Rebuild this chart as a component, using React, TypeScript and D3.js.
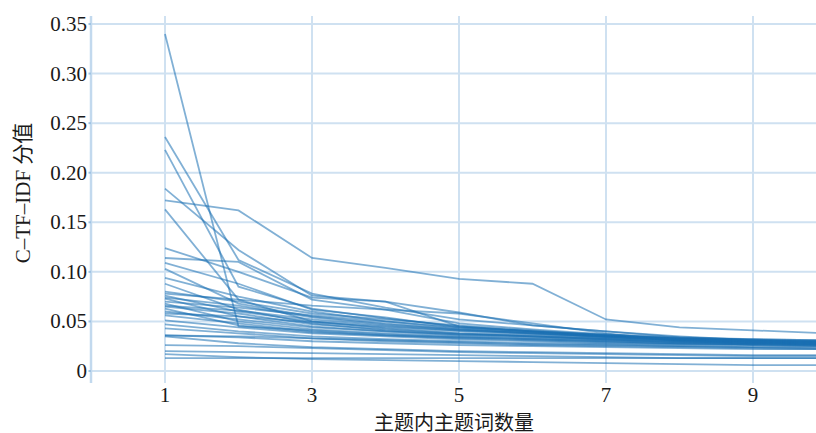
import React from "react";
import * as d3 from "d3";

const wordCounts = [1, 2, 3, 4, 5, 6, 7, 8, 9, 10];
const xTicks = [1, 3, 5, 7, 9];
const yTicks = [0, 0.05, 0.1, 0.15, 0.2, 0.25, 0.3, 0.35];
const yTickLabels = ["0", "0.05", "0.10", "0.15", "0.20", "0.25", "0.30", "0.35"];

const topicScores: number[][] = [
  [0.340, 0.045, 0.041, 0.037, 0.034, 0.032, 0.030, 0.028, 0.027, 0.026],
  [0.236, 0.112, 0.078, 0.064, 0.052, 0.046, 0.040, 0.035, 0.031, 0.029],
  [0.223, 0.085, 0.063, 0.053, 0.045, 0.040, 0.035, 0.031, 0.028, 0.027],
  [0.184, 0.122, 0.076, 0.070, 0.059, 0.046, 0.040, 0.034, 0.031, 0.029],
  [0.172, 0.162, 0.114, 0.104, 0.093, 0.088, 0.052, 0.044, 0.041, 0.038],
  [0.163, 0.072, 0.050, 0.043, 0.038, 0.035, 0.032, 0.029, 0.027, 0.026],
  [0.124, 0.100, 0.074, 0.070, 0.045, 0.040, 0.036, 0.032, 0.030, 0.028],
  [0.114, 0.110, 0.072, 0.062, 0.048, 0.042, 0.037, 0.033, 0.030, 0.028],
  [0.109, 0.088, 0.062, 0.054, 0.044, 0.040, 0.036, 0.032, 0.030, 0.028],
  [0.103, 0.068, 0.055, 0.048, 0.042, 0.038, 0.035, 0.031, 0.029, 0.027],
  [0.094, 0.075, 0.060, 0.050, 0.043, 0.039, 0.034, 0.031, 0.029, 0.027],
  [0.088, 0.062, 0.048, 0.041, 0.037, 0.035, 0.032, 0.030, 0.028, 0.027],
  [0.080, 0.070, 0.058, 0.052, 0.046, 0.041, 0.036, 0.033, 0.031, 0.030],
  [0.078, 0.072, 0.066, 0.062, 0.058, 0.048, 0.038, 0.030, 0.028, 0.027],
  [0.076, 0.060, 0.050, 0.045, 0.041, 0.038, 0.035, 0.032, 0.030, 0.029],
  [0.074, 0.066, 0.054, 0.047, 0.042, 0.039, 0.036, 0.033, 0.031, 0.030],
  [0.073, 0.055, 0.045, 0.040, 0.037, 0.035, 0.033, 0.031, 0.030, 0.029],
  [0.070, 0.064, 0.056, 0.050, 0.044, 0.040, 0.037, 0.034, 0.032, 0.031],
  [0.068, 0.050, 0.042, 0.038, 0.035, 0.033, 0.031, 0.029, 0.028, 0.027],
  [0.066, 0.061, 0.052, 0.046, 0.041, 0.038, 0.035, 0.033, 0.032, 0.031],
  [0.065, 0.058, 0.047, 0.042, 0.038, 0.036, 0.034, 0.032, 0.031, 0.030],
  [0.063, 0.046, 0.039, 0.036, 0.033, 0.031, 0.029, 0.027, 0.026, 0.025],
  [0.060, 0.052, 0.044, 0.040, 0.036, 0.034, 0.032, 0.030, 0.029, 0.028],
  [0.058, 0.055, 0.049, 0.044, 0.040, 0.037, 0.034, 0.032, 0.030, 0.029],
  [0.056, 0.048, 0.040, 0.036, 0.034, 0.032, 0.030, 0.028, 0.027, 0.026],
  [0.051, 0.044, 0.038, 0.035, 0.032, 0.030, 0.028, 0.027, 0.026, 0.025],
  [0.047, 0.040, 0.035, 0.032, 0.030, 0.028, 0.027, 0.025, 0.024, 0.023],
  [0.043, 0.038, 0.033, 0.030, 0.028, 0.026, 0.025, 0.024, 0.023, 0.022],
  [0.036, 0.035, 0.033, 0.031, 0.029, 0.027, 0.026, 0.025, 0.024, 0.024],
  [0.036, 0.034, 0.030, 0.028, 0.026, 0.025, 0.024, 0.023, 0.022, 0.022],
  [0.035, 0.028, 0.024, 0.022, 0.020, 0.019, 0.018, 0.017, 0.016, 0.016],
  [0.026, 0.025, 0.023, 0.021, 0.019, 0.018, 0.017, 0.016, 0.015, 0.015],
  [0.020, 0.019, 0.018, 0.017, 0.016, 0.015, 0.014, 0.013, 0.013, 0.013],
  [0.017, 0.014, 0.012, 0.011, 0.010, 0.009, 0.008, 0.007, 0.006, 0.006],
  [0.013, 0.013, 0.013, 0.013, 0.013, 0.013, 0.013, 0.013, 0.013, 0.013],
];

const xTitle = "主题内主题词数量";
const yTitle = "C–TF–IDF 分值";

const W = 816;
const H = 433;
const FONT = "'Liberation Serif', 'Times New Roman', 'Noto Sans CJK SC', serif";
const GRID = "#cfe1f1";

export default function App() {
  const x = d3.scaleLinear().domain([0, 10]).range([91.5, 826.5]);
  const y = d3.scaleLinear().domain([0, 0.35]).range([371, 24]);
  const plotTop = 16;
  const plotBottom = 383;
  const line = d3
    .line<number>()
    .x((_, i) => x(wordCounts[i]))
    .y((v) => y(v));

  return (
    <svg
      width={W}
      height={H}
      style={{ position: "absolute", left: 0, top: 0, background: "#fff" }}
      fontFamily={FONT}
    >
      {yTicks.map((t) => (
        <line key={"h" + t} x1={91} x2={W} y1={y(t)} y2={y(t)} stroke={GRID} strokeWidth={2} />
      ))}
      {xTicks.map((t) => (
        <line key={"v" + t} x1={x(t)} x2={x(t)} y1={plotTop} y2={plotBottom} stroke={GRID} strokeWidth={2} />
      ))}
      <line x1={91} x2={91} y1={plotTop} y2={plotBottom} stroke="#c2d9ee" strokeWidth={2.5} />
      {yTicks.map((t) => (
        <line key={"t" + t} x1={88.5} x2={91} y1={y(t)} y2={y(t)} stroke="#9fc3e3" strokeWidth={2} />
      ))}
      <g fill="none" stroke="#1a6fb3" strokeOpacity={0.55} strokeWidth={1.8}>
        {topicScores.map((s, i) => (
          <path key={i} d={line(s) || ""} />
        ))}
      </g>
      {yTicks.map((t, i) => (
        <text key={"yl" + t} x={87} y={y(t) + 7} textAnchor="end" fontSize={21} fill="#1a1a1a">
          {yTickLabels[i]}
        </text>
      ))}
      {xTicks.map((t) => (
        <text key={"xl" + t} x={x(t)} y={402} textAnchor="middle" fontSize={21} fill="#1a1a1a">
          {t}
        </text>
      ))}
      <text x={454} y={430} textAnchor="middle" fontSize={20} fill="#1a1a1a">
        {xTitle}
      </text>
      <text
        transform={`translate(30,193) rotate(-90)`}
        textAnchor="middle"
        fontSize={21}
        fill="#1a1a1a"
      >
        {yTitle}
      </text>
    </svg>
  );
}
